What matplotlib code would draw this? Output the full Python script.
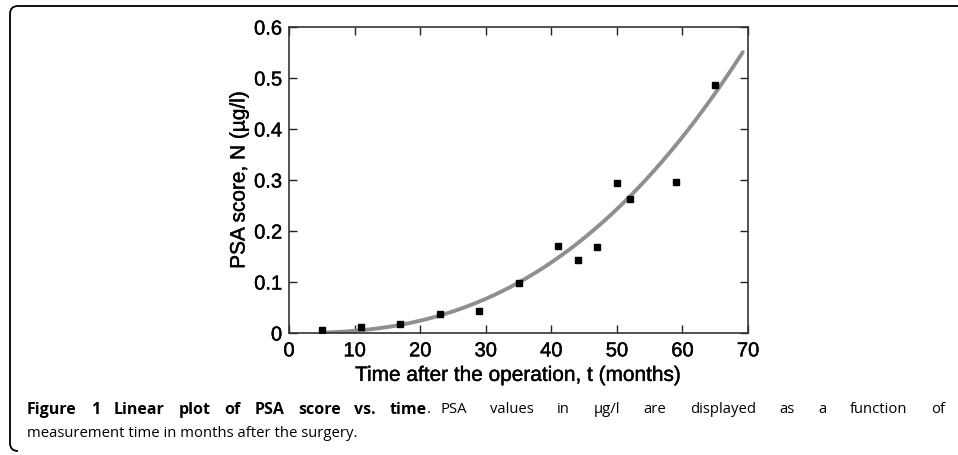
import numpy as np
import matplotlib.pyplot as plt
import matplotlib.patheffects as pe
from matplotlib.path import Path
from matplotlib.patches import PathPatch

# --------- data ---------
months = [5, 11, 17, 23, 29, 35, 41, 44, 47, 50, 52, 59, 65]
psa = [0.005, 0.012, 0.018, 0.037, 0.044, 0.099, 0.170, 0.144, 0.168, 0.294, 0.262, 0.296, 0.486]

# fitted curve N = a * t^k, parameters estimated from the drawn line
fit_a = 1.27e-5
fit_k = 2.52
fit_t0, fit_t1 = 5.0, 69.2

x_ticks = [0, 10, 20, 30, 40, 50, 60, 70]
y_ticks = [0, 0.1, 0.2, 0.3, 0.4, 0.5, 0.6]
y_tick_labels = ["0", "0.1", "0.2", "0.3", "0.4", "0.5", "0.6"]

caption_bold = "Figure 1 Linear plot of PSA score vs. time"
caption_rest1 = ". PSA values in µg/l are displayed as a function of"
caption_line2 = "measurement time in months after the surgery."

W, H = 958, 456
fig = plt.figure(figsize=(W / 100, H / 100), dpi=100)

# --------- rounded frame on the left / top ---------
r = 8
pts = [
    (W + 5, H - 7),
    (10 + r, H - 7),
    (10, H - 7),
    (10, H - 7 - r),
    (10, 4 + r),
    (10, 4),
    (10 + r, 4),
]
codes = [Path.MOVETO, Path.LINETO, Path.CURVE3, Path.CURVE3, Path.LINETO, Path.CURVE3, Path.CURVE3]
frame = PathPatch(Path([(x / W, y / H) for x, y in pts], codes), transform=fig.transFigure,
                  fill=False, edgecolor="black", linewidth=1.3)
fig.add_artist(frame)

# --------- plot ---------
ax = fig.add_axes([289 / W, 122 / H, 459 / W, 306 / H])

t_curve = np.linspace(fit_t0, fit_t1, 300)
ax.plot(t_curve, fit_a * t_curve ** fit_k, color="#8f8f8f", linewidth=2.8, solid_capstyle="round", zorder=2)
ax.plot(months, psa, linestyle="none", marker="s", markersize=5, color="black", zorder=3)

ax.set_xlim(0, 70)
ax.set_ylim(0, 0.6)
ax.set_xticks(x_ticks)
ax.set_yticks(y_ticks)
ax.set_yticklabels(y_tick_labels)
ax.tick_params(direction="in", length=6, width=1, top=True, right=True,
               labelsize=14.5, colors="#222222", labelcolor="black")
ax.tick_params(axis="x", pad=6)
ax.tick_params(axis="y", pad=5)
for s in ax.spines.values():
    s.set_linewidth(1.2)
    s.set_color("#333333")

ax.set_xlabel("Time after the operation, t (months)", fontsize=15, labelpad=4)
ax.set_ylabel("PSA score, N (µg/l)", fontsize=15, labelpad=4)

# slightly heavier axis text, like the scanned figure
heavy = [pe.withStroke(linewidth=0.3, foreground="black")]
for t in ax.get_xticklabels() + ax.get_yticklabels() + [ax.xaxis.label, ax.yaxis.label]:
    t.set_fontfamily("Liberation Sans")
    t.set_path_effects(heavy)

# --------- caption, justified first line ---------
bold_size = 11.5
cap_size = 10.7
y1 = 1 - 410 / H
y2 = 1 - 434 / H
fig.canvas.draw()
renderer = fig.canvas.get_renderer()


def spread(words, weight, size, x0, x1, y):
    texts = [fig.text(0, y, w, fontsize=size, family="Open Sans", weight=weight, va="center")
             for w in words]
    widths = [t.get_window_extent(renderer).width for t in texts]
    gap = (x1 - x0 - sum(widths)) / max(len(texts) - 1, 1)
    x = x0
    for t, w in zip(texts, widths):
        t.set_x(x / W)
        x += w + gap


spread(caption_bold.split(" "), "bold", bold_size, 27, 427, y1)
rest = caption_rest1.split(" ")
spread([rest[0]], "normal", cap_size, 427, 433, y1)
spread(rest[1:], "normal", cap_size, 440, 945, y1)

fig.text(27 / W, y2, caption_line2, fontsize=cap_size, family="Open Sans", va="center")

fig.savefig("out.png", dpi=100)
